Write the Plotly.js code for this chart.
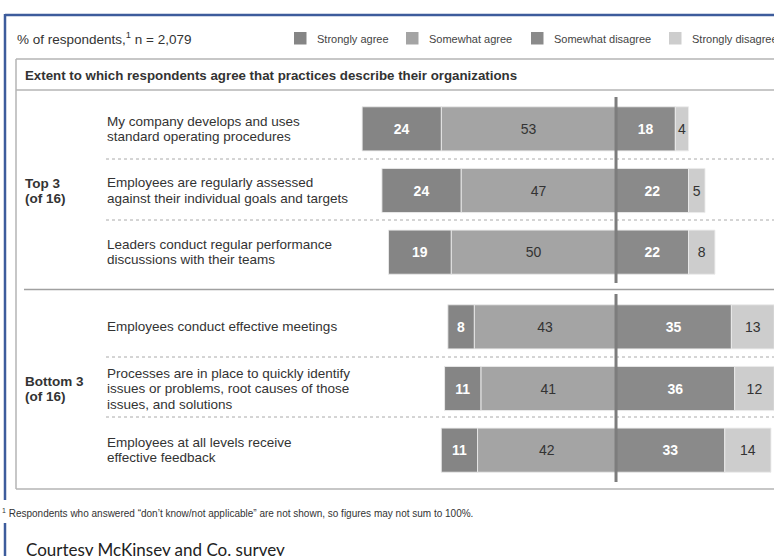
<!DOCTYPE html>
<html>
<head>
<meta charset="utf-8">
<script src="https://cdn.plot.ly/plotly-3.0.1.min.js"></script>
<style>html,body{margin:0;padding:0;background:#fff;overflow:hidden}#chart{width:774px;height:556px}</style>
</head>
<body>
<div id="chart"></div>
<script>
// ---- data ----
const rowLabels = [
  "My company develops and uses<br>standard operating procedures",
  "Employees are regularly assessed<br>against their individual goals and targets",
  "Leaders conduct regular performance<br>discussions with their teams",
  "Employees conduct effective meetings",
  "Processes are in place to quickly identify<br>issues or problems, root causes of those<br>issues, and solutions",
  "Employees at all levels receive<br>effective feedback"
];
const sectionLabels = ["Top 3<br>(of 16)", "Bottom 3<br>(of 16)"];
const seriesNames = ["Strongly agree", "Somewhat agree", "Somewhat disagree", "Strongly disagree"];
const stronglyAgree    = [24, 24, 19, 8, 11, 11];
const somewhatAgree    = [53, 47, 50, 43, 41, 42];
const somewhatDisagree = [18, 22, 22, 35, 36, 33];
const stronglyDisagree = [4, 5, 8, 13, 12, 14];
const headerText = "% of respondents,<sup>1</sup> n = 2,079";
const titleText = "Extent to which respondents agree that practices describe their organizations";
const footnoteText = "<sup>1</sup> Respondents who answered \u201cdon\u2019t know/not applicable\u201d are not shown, so figures may not sum to 100%.";
const creditText = "Courtesy McKinsey and Co. survey";

// ---- style ----
const W = 774, H = 556;
const FONT = "Liberation Sans, Arial, sans-serif";
const colors = {"Strongly agree": "#858585", "Somewhat agree": "#a4a4a4", "Somewhat disagree": "#8a8a8a", "Strongly disagree": "#cdcdcd"};
const textStyle = {
  "Strongly agree": {color: "#ffffff", bold: true},
  "Somewhat agree": {color: "#333333", bold: false},
  "Somewhat disagree": {color: "#ffffff", bold: true},
  "Strongly disagree": {color: "#333333", bold: false}
};
const px = x => x / W;
const py = y => 1 - y / H;

const seriesData = {
  "Strongly agree": stronglyAgree,
  "Somewhat agree": somewhatAgree,
  "Somewhat disagree": somewhatDisagree,
  "Strongly disagree": stronglyDisagree
};
const sign = {"Strongly agree": -1, "Somewhat agree": -1, "Somewhat disagree": 1, "Strongly disagree": 1};
// stacking order outward from the centre line
const stackOrder = ["Somewhat agree", "Strongly agree", "Somewhat disagree", "Strongly disagree"];

const sections = [
  {axis: "y", ref: "y", rows: [0, 1, 2]},
  {axis: "y2", ref: "y2", rows: [3, 4, 5]}
];

const traces = [];
sections.forEach(sec => {
  stackOrder.forEach(name => {
    const vals = sec.rows.map(i => seriesData[name][i]);
    const ts = textStyle[name];
    traces.push({
      type: "bar",
      orientation: "h",
      name: name,
      yaxis: sec.axis,
      xaxis: "x",
      y: sec.rows.map((i, k) => k),
      x: vals.map(v => sign[name] * v),
      text: vals.map(String),
      texttemplate: ts.bold ? "<b>%{text}</b>" : "%{text}",
      textposition: "inside",
      insidetextanchor: "middle",
      textangle: 0,
      constraintext: "none",
      textfont: {family: FONT, size: 14, color: ts.color},
      width: 0.715,
      marker: {color: colors[name], line: {color: "rgba(235,235,235,0.9)", width: 1}},
      hoverinfo: "skip",
      showlegend: false
    });
  });
});

const annotations = [];
const shapes = [];

// row labels
sections.forEach(sec => {
  sec.rows.forEach((ri, k) => {
    const lines = rowLabels[ri].split("<br>");
    const n = lines.length;
    lines.forEach((ln, li) => {
      annotations.push({
        xref: "paper", yref: sec.ref, x: px(105), y: k,
        xanchor: "left", yanchor: "middle", showarrow: false,
        yshift: ((n - 1) / 2 - li) * 15.5,
        text: ln, font: {family: FONT, size: 13.5, color: "#333333"}
      });
    });
  });
});
// section labels
sections.forEach((sec, si) => {
  const lines = sectionLabels[si].split("<br>");
  lines.forEach((ln, li) => {
    annotations.push({
      xref: "paper", yref: sec.ref, x: px(23), y: 1,
      xanchor: "left", yanchor: "middle", showarrow: false,
      yshift: ((lines.length - 1) / 2 - li) * 15.5 - 0.5,
      text: "<b>" + ln + "</b>", font: {family: FONT, size: 13.5, color: "#333333"}
    });
  });
});

// header
annotations.push({xref: "paper", yref: "paper", x: px(15), y: py(38), xanchor: "left", yanchor: "middle",
  showarrow: false, text: headerText, font: {family: FONT, size: 13.5, color: "#333333"}});
// legend (custom)
const legX = [294, 406, 531, 669];
seriesNames.forEach((nm, i) => {
  shapes.push({type: "rect", xref: "paper", yref: "paper", x0: px(legX[i]), x1: px(legX[i] + 12.5),
    y0: py(44.5), y1: py(32), fillcolor: colors[nm], line: {width: 0}});
  annotations.push({xref: "paper", yref: "paper", x: px(legX[i] + 21), y: py(38.5), xanchor: "left", yanchor: "middle",
    showarrow: false, text: nm, font: {family: FONT, size: 11, color: "#444444"}});
});
// title
annotations.push({xref: "paper", yref: "paper", x: px(23), y: py(75), xanchor: "left", yanchor: "middle",
  showarrow: false, text: "<b>" + titleText + "</b>", font: {family: FONT, size: 13.3, color: "#333333"}});
// footnote
annotations.push({xref: "paper", yref: "paper", x: px(0), y: py(513), xanchor: "left", yanchor: "middle",
  showarrow: false, text: footnoteText, font: {family: FONT, size: 10, color: "#333333"}});
// credit
annotations.push({xref: "paper", yref: "paper", x: px(24), y: py(549), xanchor: "left", yanchor: "middle",
  showarrow: false, text: creditText, font: {family: "Lato, Open Sans, sans-serif", size: 17, color: "#222222"}});

// frame lines
const L = (x0, y0, x1, y1, color, width, dash) => shapes.push({type: "line", xref: "paper", yref: "paper",
  x0: px(x0), y0: py(y0), x1: px(x1), y1: py(y1), line: {color: color, width: width, dash: dash || "solid"}});
// blue outer border
L(5, 15, 780, 15, "#3d5c9c", 2.5);
L(5, 14, 5, 500, "#3d5c9c", 2.5);
L(5, 523, 5, 560, "#3d5c9c", 2.5);
// inner box
L(16, 59, 780, 59, "#b4b4b4", 1.5);
L(16, 59, 16, 489, "#b4b4b4", 1.5);
L(16, 489, 780, 489, "#b4b4b4", 1.5);
L(16, 90, 780, 90, "#b4b4b4", 1.5);
// section divider
L(24, 289.5, 780, 289.5, "#a0a0a0", 1.5);
// dotted row separators
[159, 220, 357, 417].forEach(y => L(106, y, 780, y, "#aaaaaa", 1, "dot"));
// centre line at 0 (data axis)
shapes.push({type: "line", xref: "x", yref: "paper", x0: 0, x1: 0, y0: py(97), y1: py(283), line: {color: "#7d7d7d", width: 3}});
shapes.push({type: "line", xref: "x", yref: "paper", x0: 0, x1: 0, y0: py(294), y1: py(482), line: {color: "#7d7d7d", width: 3}});

const layout = {
  width: W, height: H,
  margin: {l: 0, r: 0, t: 0, b: 0},
  paper_bgcolor: "#ffffff", plot_bgcolor: "rgba(0,0,0,0)",
  barmode: "relative",
  showlegend: false,
  font: {family: FONT},
  xaxis: {range: [-186.84, 47.92], visible: false, fixedrange: true},
  yaxis: {domain: [py(283), py(98)], range: [2.5, -0.5], visible: false, fixedrange: true},
  yaxis2: {domain: [py(481), py(296)], range: [2.5, -0.5], visible: false, fixedrange: true, anchor: "x"},
  shapes: shapes,
  annotations: annotations
};

Plotly.newPlot("chart", traces, layout, {staticPlot: true, displayModeBar: false});
</script>
</body>
</html>
